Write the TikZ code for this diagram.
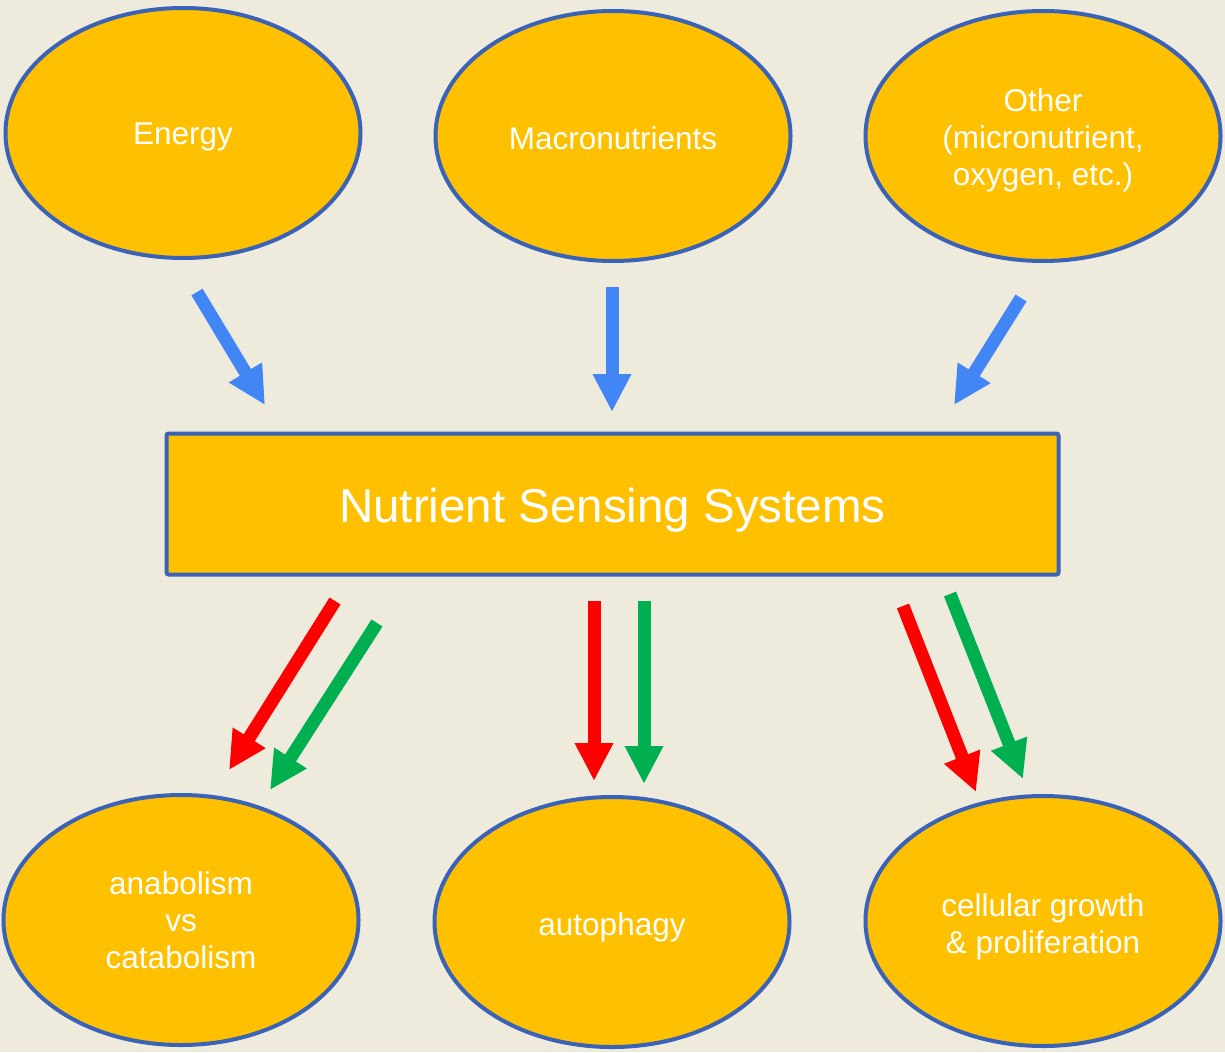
\documentclass[tikz,border=0pt]{standalone}
\usepackage{fontspec}
\setmainfont{Liberation Sans}
\usetikzlibrary{arrows.meta,shapes.geometric}
\definecolor{bgcol}{HTML}{EEEBDD}
\definecolor{fillcol}{HTML}{FFC000}
\definecolor{edgecol}{HTML}{3A63B8}
\definecolor{inblue}{HTML}{4285F4}
\definecolor{outred}{HTML}{FF0000}
\definecolor{outgreen}{HTML}{00B050}
\tikzset{
  topic/.style={ellipse, draw=edgecol, line width=4pt, fill=fillcol,
    minimum width=355pt, minimum height=250pt},
  topictext/.style={text=white, align=center,
    font=\fontsize{31.5}{37}\selectfont},
  hub/.style={rectangle, rounded corners=2pt, draw=edgecol, line width=4pt, fill=fillcol,
    minimum width=892pt, minimum height=141pt},
  hubtext/.style={text=white, font=\fontsize{47.5}{55}\selectfont},
  blockarrow/.style={line width=13pt, -{Triangle[length=38pt,width=36pt]}},
}
\begin{document}
\begin{tikzpicture}[x=1pt,y=-1pt]
\fill[bgcol] (0,0) rectangle (1225,1052);
\useasboundingbox (0,0) rectangle (1225,1052);

% sources
\node[topic] (energy) at (183,133) {};
\node[topictext] (energy-t) at ([yshift=-4pt]energy.center) {Energy};
\node[topic] (macro) at (613,136) {};
\node[topictext] (macro-t) at ([yshift=-2pt]macro.center) {Macronutrients};
\node[topic] (other) at (1043,136) {};
\node[topictext] (other-t) at ([yshift=-4pt]other.center) {Other\\(micronutrient,\\oxygen, etc.)};

% sensing hub
\node[hub] (nss) at (612.5,504) {};
\node[hubtext] (nss-t) at ([yshift=-6pt]nss.center) {Nutrient Sensing Systems};

% outcomes
\node[topic] (anab) at (181,920) {};
\node[topictext] (anab-t) at (anab.center) {anabolism\\vs\\catabolism};
\node[topic] (auto) at (612,922) {};
\node[topictext] (auto-t) at ([yshift=-5pt]auto.center) {autophagy};
\node[topic] (growth) at (1043,921) {};
\node[topictext] (growth-t) at ([yshift=-6pt]growth.center) {cellular growth\\\& proliferation};

% arrow end points
\coordinate (e1) at (197,292); \coordinate (e2) at (265,405);
\coordinate (m1) at (612,287); \coordinate (m2) at (612,412);
\coordinate (o1) at (1021,298); \coordinate (o2) at (954,405);
\coordinate (ar1) at (335,601); \coordinate (ar2) at (229,770);
\coordinate (ag1) at (377,623); \coordinate (ag2) at (270,790);
\coordinate (ur1) at (594,601); \coordinate (ur2) at (594,781);
\coordinate (ug1) at (644,601); \coordinate (ug2) at (644,784);
\coordinate (gr1) at (903,606); \coordinate (gr2) at (976,792);
\coordinate (gg1) at (950,594); \coordinate (gg2) at (1023,779);

% inputs
\draw[blockarrow, inblue] (e1) -- (e2);
\draw[blockarrow, inblue] (m1) -- (m2);
\draw[blockarrow, inblue] (o1) -- (o2);

% outputs
\draw[blockarrow, outred] (ar1) -- (ar2);
\draw[blockarrow, outgreen] (ag1) -- (ag2);
\draw[blockarrow, outred] (ur1) -- (ur2);
\draw[blockarrow, outgreen] (ug1) -- (ug2);
\draw[blockarrow, outred] (gr1) -- (gr2);
\draw[blockarrow, outgreen] (gg1) -- (gg2);
\end{tikzpicture}
\end{document}
